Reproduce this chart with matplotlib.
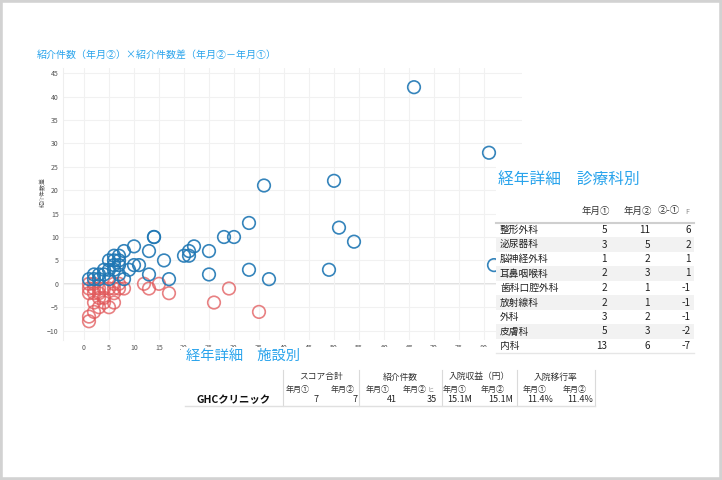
import numpy as np
import matplotlib
matplotlib.use('Agg')
import matplotlib.pyplot as plt
from matplotlib.patches import Rectangle
from matplotlib.lines import Line2D

plt.rcParams['font.family'] = ['Noto Sans CJK JP', 'DejaVu Sans']

#======== data ========
chart_title = '紹介件数（年月②）×紹介件数差（年月②－年月①）'
y_label = '紹介件数差'

# increase (blue) / decrease (red) facilities : x = 紹介件数(年月②), y = 差
blue_x = [66, 81, 36, 50, 33, 51, 28, 30, 14, 14, 54, 22, 10, 25, 21, 13, 8, 20, 21, 16,
          11, 10, 49, 33, 82, 25, 13, 37, 17, 6, 7, 6, 7, 5, 4, 3, 2, 5, 8, 3, 7, 6, 4, 2, 1, 5, 6, 7, 9]
blue_y = [42, 28, 21, 22, 13, 12, 10, 10, 10, 10, 9, 8, 8, 7, 7, 7, 7, 6, 6, 5,
          4, 4, 3, 3, 4, 2, 2, 1, 1, 6, 5, 5, 4, 5, 3, 2, 1, 1, 1, 1, 2, 3, 2, 2, 1, 3, 4, 6, 3]

red_x = [35, 29, 26, 17, 15, 12, 13, 1, 1, 1, 2, 2, 3, 3, 4, 4, 6, 7, 6, 8, 6, 5, 3, 2, 1, 1,
         2, 5, 6, 2, 4, 7, 3]
red_y = [-6, -1, -4, -2, 0, 0, -1, 0, -1, -2, 0, -1, -2, -3, -3, -4, 0, -1, -2, -1, -4, -5, -5, -6, -7, -8,
         -4, -1, -1, -2, -1, 0, -1]

dept_title = '経年詳細　診療科別'
dept_cols = ['年月①', '年月②', '②-①']
depts = ['整形外科', '泌尿器科', '脳神経外科', '耳鼻咽喉科', '歯科口腔外科', '放射線科', '外科', '皮膚科', '内科']
dept_m1 = [5, 3, 1, 2, 2, 2, 3, 5, 13]
dept_m2 = [11, 5, 2, 3, 1, 1, 2, 3, 6]
dept_diff = [6, 2, 1, 1, -1, -1, -1, -2, -7]

fac_title = '経年詳細　施設別'
fac_groups = ['スコア合計', '紹介件数', '入院収益（円）', '入院移行率']
fac_sub = ['年月①', '年月②'] * 4
fac_name = 'GHCクリニック'
fac_vals = ['7', '7', '41', '35', '15.1M', '15.1M', '11.4%', '11.4%']

#======== helpers (pixel -> figure fraction) ========
W, H = 722, 480
def fx(px): return px / W
def fy(py): return 1 - py / H

blue_col = '#1f77b4'
red_col = '#e15759'
title_col = '#2aa4ec'

fig = plt.figure(figsize=(7.22, 4.8), dpi=100)

#======== scatter ========
ax = fig.add_axes([fx(63), fy(340), (522 - 63) / W, (340 - 68) / H])
ax.scatter(red_x, red_y, s=82, facecolors='none', edgecolors=red_col, linewidths=1.2, alpha=0.75)
ax.scatter(blue_x, blue_y, s=82, facecolors='none', edgecolors=blue_col, linewidths=1.2, alpha=0.9)
ax.set_xlim(-4.2, 87.6)
ax.set_ylim(-12, 46.1)
ax.set_xticks(np.arange(0, 85, 5))
ax.set_yticks(np.arange(-10, 50, 5))
ax.grid(color='#f1f1f1', lw=0.8)
ax.set_axisbelow(True)
ax.axhline(0, color='#e2e2e2', lw=1.4, zorder=0)
for s in ax.spines.values():
    s.set_visible(False)
ax.spines['left'].set_visible(True)
ax.spines['left'].set_color('#eeeeee')
ax.tick_params(length=0, labelsize=5, colors='#555555', pad=3)

fig.text(fx(37), fy(55), chart_title, color=title_col, fontsize=7.2, va='center')
fig.text(fx(43), fy(192), y_label, rotation=90, fontsize=4.3, color='#555555', ha='center', va='center')

#======== right panel : dept table ========
fig.add_artist(Rectangle((fx(496), fy(356)), (719 - 496) / W, (356 - 166) / H,
                         transform=fig.transFigure, fc='white', ec='none', zorder=2))
fig.text(fx(498), fy(180), dept_title, color=title_col, fontsize=11.3, va='center', zorder=3)

row_y0, row_h = 230, 14.5
for i in range(len(depts)):
    yy = row_y0 + i * row_h
    if i % 2 == 1:
        fig.add_artist(Rectangle((fx(496), fy(yy + row_h / 2)), (694 - 496) / W, row_h / H,
                                 transform=fig.transFigure, fc='#f2f2f2', ec='none', zorder=2))
    fig.text(fx(500), fy(yy), depts[i], fontsize=7, color='#222222', va='center', zorder=3)
    fig.text(fx(607), fy(yy), str(dept_m1[i]), fontsize=7.2, color='#222222', va='center', ha='right', zorder=3)
    fig.text(fx(650), fy(yy), str(dept_m2[i]), fontsize=7.2, color='#222222', va='center', ha='right', zorder=3)
    fig.text(fx(691), fy(yy), str(dept_diff[i]), fontsize=7.2, color='#222222', va='center', ha='right', zorder=3)

fig.text(fx(610), fy(211), dept_cols[0], fontsize=6.8, color='#333333', va='center', ha='right', zorder=3)
fig.text(fx(652), fy(211), dept_cols[1], fontsize=6.8, color='#333333', va='center', ha='right', zorder=3)
fig.text(fx(680), fy(211), dept_cols[2], fontsize=6.8, color='#333333', va='center', ha='right', zorder=3)
fig.text(fx(687), fy(212), 'F', fontsize=5, color='#888888', va='center', ha='center', zorder=3)
fig.add_artist(Line2D([fx(496), fx(694)], [fy(223), fy(223)], color='#cfcfcf', lw=1.5, zorder=3))
fig.add_artist(Line2D([fx(496), fx(694)], [fy(353), fy(353)], color='#e6e6e6', lw=1, zorder=3))

#======== bottom panel : facility table ========
# white panel hides the lower half of the x tick labels, like the dashboard does
fig.add_artist(Rectangle((fx(181), fy(412)), (496 - 181) / W, (412 - 347) / H,
                         transform=fig.transFigure, fc='white', ec='none', zorder=2))
fig.text(fx(186), fy(356), fac_title, color=title_col, fontsize=10.3, va='center', zorder=3)

seps = [283, 359, 442, 517, 595]
for i in range(4):
    fig.text(fx((seps[i] + seps[i + 1]) / 2), fy(377), fac_groups[i], fontsize=6.3,
             color='#333333', ha='center', va='center', zorder=3)
sub_x = [298, 343, 378, 415, 455, 493, 535, 575]
val_x = [319, 358, 397, 437, 472, 513, 553, 593]
for i in range(8):
    fig.text(fx(sub_x[i]), fy(389), fac_sub[i], fontsize=5.8, color='#333333', ha='center', va='center', zorder=3)
    fig.text(fx(val_x[i]), fy(400), fac_vals[i], fontsize=6.5, color='#222222', ha='right', va='center', zorder=3)
fig.text(fx(431), fy(390), 'ヒ', fontsize=4.5, color='#888888', ha='center', va='center', zorder=3)
fig.text(fx(234), fy(400), fac_name, fontsize=7.5, fontweight='bold', color='#111111',
         ha='center', va='center', zorder=3)
for sx in seps:
    fig.add_artist(Line2D([fx(sx), fx(sx)], [fy(370), fy(406)], color='#dadada', lw=0.8, zorder=3))
fig.add_artist(Line2D([fx(185), fx(595)], [fy(406), fy(406)], color='#e0e0e0', lw=1, zorder=3))

#======== outer frame ========
fig.add_artist(Rectangle((0, 0), 1, 1, transform=fig.transFigure, fill=False,
                         ec='#d2d2d2', lw=4, zorder=5))

fig.savefig('out.png', dpi=100)
